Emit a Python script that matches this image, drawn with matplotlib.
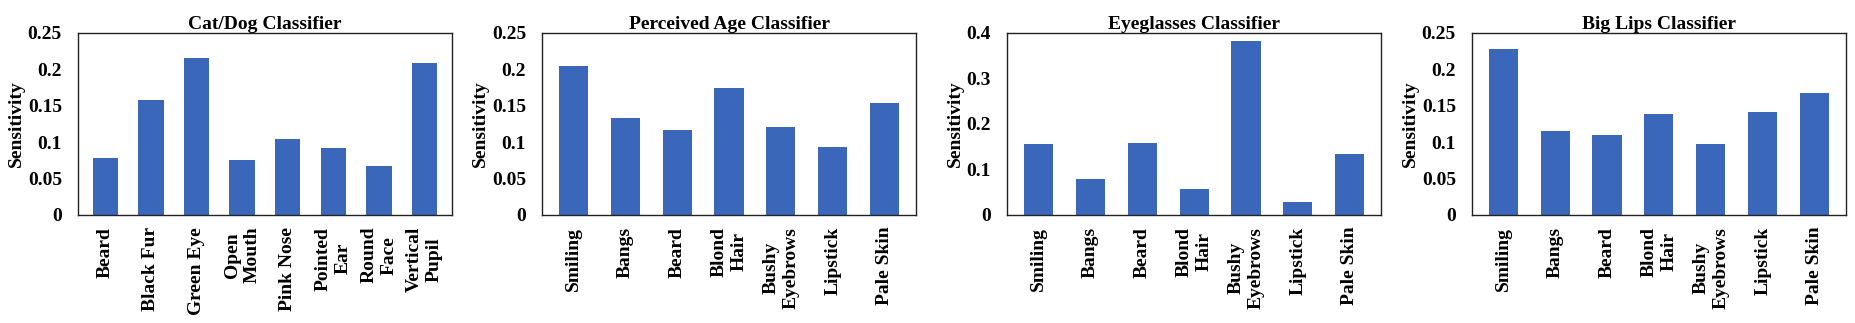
import matplotlib.pyplot as plt

plt.rcParams['font.family'] = ['Liberation Serif', 'DejaVu Serif']
plt.rcParams['font.weight'] = 'bold'
plt.rcParams['axes.labelweight'] = 'bold'
plt.rcParams['axes.titleweight'] = 'bold'
plt.rcParams['font.size'] = 14

# Sensitivity of each classifier to the attributes
catdog_labels = ['Beard', 'Black Fur', 'Green Eye', 'Open\nMouth', 'Pink Nose',
                 'Pointed\nEar', 'Round\nFace', 'Vertical\nPupil']
catdog_values = [0.078, 0.158, 0.216, 0.076, 0.105, 0.092, 0.067, 0.209]

face_labels = ['Smiling', 'Bangs', 'Beard', 'Blond\nHair', 'Bushy\nEyebrows',
               'Lipstick', 'Pale Skin']
age_values = [0.204, 0.133, 0.117, 0.174, 0.121, 0.094, 0.154]
eyeglasses_values = [0.156, 0.079, 0.159, 0.058, 0.382, 0.029, 0.134]
biglips_values = [0.228, 0.115, 0.110, 0.139, 0.097, 0.141, 0.167]

panels = [
    ('Cat/Dog Classifier', catdog_labels, catdog_values, 0.25, [0, 0.05, 0.1, 0.15, 0.2, 0.25]),
    ('Perceived Age Classifier', face_labels, age_values, 0.25, [0, 0.05, 0.1, 0.15, 0.2, 0.25]),
    ('Eyeglasses Classifier', face_labels, eyeglasses_values, 0.4, [0, 0.1, 0.2, 0.3, 0.4]),
    ('Big Lips Classifier', face_labels, biglips_values, 0.25, [0, 0.05, 0.1, 0.15, 0.2, 0.25]),
]

fig = plt.figure(figsize=(18.55, 3.23), dpi=100)
lefts = [0.042, 0.2922, 0.5429, 0.7935]
bar_color = '#3A67BA'

for left, (title, labels, values, ymax, ticks) in zip(lefts, panels):
    ax = fig.add_axes([left, 0.3344, 0.2016, 0.5635])
    x = range(len(values))
    ax.bar(x, values, width=0.56, color=bar_color)
    ax.set_xlim(-0.6, len(values) - 0.4)
    ax.set_ylim(0, ymax)
    ax.set_yticks(ticks)
    ax.set_yticklabels([f'{t:g}' for t in ticks])
    ax.set_xticks(list(x))
    ax.set_xticklabels(labels, rotation=90, ha='center', va='top', multialignment='center')
    ax.tick_params(axis='both', length=0)
    ax.tick_params(axis='y', pad=11.5)
    ax.tick_params(axis='x', pad=8.5)
    ax.set_title(title, fontsize=14, fontweight='bold', pad=1.5)
    ax.set_ylabel('Sensitivity', labelpad=2)
    for s in ax.spines.values():
        s.set_color('#222222')
        s.set_linewidth(1.0)

plt.savefig('out.png', dpi=100)
